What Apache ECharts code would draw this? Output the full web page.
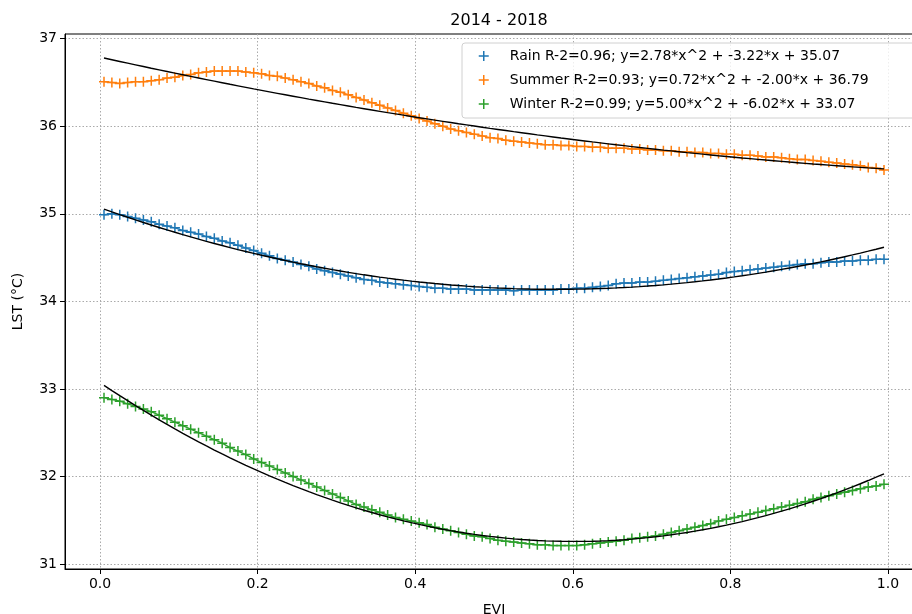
<!DOCTYPE html>
<html>
<head>
<meta charset="utf-8">
<script src="https://cdn.jsdelivr.net/npm/echarts@6/dist/echarts.min.js"></script>
<style>
  html, body { margin: 0; padding: 0; background: #fff; }
  #chart { width: 912px; height: 614px; }
</style>
</head>
<body>
<div id="chart"></div>
<script>
// EVI bin centres
const evi = [
  0.005, 0.015, 0.025, 0.035, 0.045, 0.055, 0.065, 0.075, 0.085, 0.095,
  0.105, 0.115, 0.125, 0.135, 0.145, 0.155, 0.165, 0.175, 0.185, 0.195,
  0.205, 0.215, 0.225, 0.235, 0.245, 0.255, 0.265, 0.275, 0.285, 0.295,
  0.305, 0.315, 0.325, 0.335, 0.345, 0.355, 0.365, 0.375, 0.385, 0.395,
  0.405, 0.415, 0.425, 0.435, 0.445, 0.455, 0.465, 0.475, 0.485, 0.495,
  0.505, 0.515, 0.525, 0.535, 0.545, 0.555, 0.565, 0.575, 0.585, 0.595,
  0.605, 0.615, 0.625, 0.635, 0.645, 0.655, 0.665, 0.675, 0.685, 0.695,
  0.705, 0.715, 0.725, 0.735, 0.745, 0.755, 0.765, 0.775, 0.785, 0.795,
  0.805, 0.815, 0.825, 0.835, 0.845, 0.855, 0.865, 0.875, 0.885, 0.895,
  0.905, 0.915, 0.925, 0.935, 0.945, 0.955, 0.965, 0.975, 0.985, 0.995
];

// Mean LST (°C) per EVI bin, by season
const rainLST = [
  34.99, 35.00, 34.99, 34.97, 34.95, 34.93, 34.91, 34.88, 34.86, 34.84,
  34.81, 34.79, 34.77, 34.74, 34.72, 34.69, 34.67, 34.64, 34.61, 34.58,
  34.55, 34.52, 34.49, 34.47, 34.45, 34.42, 34.40, 34.37, 34.35, 34.33,
  34.31, 34.29, 34.27, 34.25, 34.24, 34.22, 34.21, 34.20, 34.19, 34.18,
  34.17, 34.16, 34.15, 34.15, 34.14, 34.14, 34.14, 34.13, 34.13, 34.13,
  34.13, 34.13, 34.12, 34.13, 34.13, 34.13, 34.13, 34.13, 34.14, 34.14,
  34.15, 34.15, 34.16, 34.17, 34.18, 34.20, 34.21, 34.21, 34.22, 34.22,
  34.23, 34.24, 34.25, 34.26, 34.27, 34.28, 34.29, 34.30, 34.31, 34.33,
  34.34, 34.35, 34.36, 34.37, 34.38, 34.39, 34.40, 34.41, 34.42, 34.43,
  34.43, 34.44, 34.45, 34.45, 34.46, 34.46, 34.47, 34.47, 34.48, 34.48
];
const summerLST = [
  36.51, 36.50, 36.49, 36.50, 36.51, 36.51, 36.52, 36.53, 36.55, 36.56,
  36.58, 36.59, 36.61, 36.62, 36.63, 36.63, 36.63, 36.63, 36.62, 36.61,
  36.60, 36.58, 36.57, 36.55, 36.53, 36.51, 36.49, 36.46, 36.44, 36.41,
  36.39, 36.36, 36.33, 36.30, 36.27, 36.24, 36.21, 36.18, 36.15, 36.12,
  36.09, 36.06, 36.03, 36.00, 35.97, 35.95, 35.93, 35.91, 35.89, 35.87,
  35.86, 35.84, 35.83, 35.82, 35.81, 35.80, 35.79, 35.79, 35.78, 35.78,
  35.77, 35.77, 35.76, 35.76, 35.75, 35.75, 35.75, 35.74, 35.74, 35.73,
  35.73, 35.72, 35.72, 35.71, 35.71, 35.70, 35.70, 35.69, 35.69, 35.68,
  35.68, 35.67, 35.67, 35.66, 35.65, 35.65, 35.64, 35.63, 35.62, 35.62,
  35.61, 35.60, 35.59, 35.58, 35.57, 35.56, 35.55, 35.53, 35.52, 35.50
];
const winterLST = [
  32.90, 32.88, 32.86, 32.83, 32.80, 32.77, 32.74, 32.70, 32.66, 32.62,
  32.58, 32.54, 32.50, 32.46, 32.42, 32.38, 32.33, 32.29, 32.25, 32.20,
  32.16, 32.12, 32.08, 32.04, 32.00, 31.96, 31.92, 31.88, 31.84, 31.80,
  31.76, 31.72, 31.68, 31.65, 31.62, 31.59, 31.56, 31.53, 31.51, 31.49,
  31.47, 31.45, 31.42, 31.40, 31.38, 31.36, 31.34, 31.32, 31.31, 31.29,
  31.27, 31.26, 31.25, 31.24, 31.23, 31.22, 31.22, 31.21, 31.21, 31.21,
  31.21, 31.22, 31.23, 31.24, 31.25, 31.26, 31.27, 31.29, 31.30, 31.31,
  31.32, 31.34, 31.36, 31.38, 31.40, 31.42, 31.44, 31.46, 31.49, 31.51,
  31.53, 31.55, 31.57, 31.59, 31.61, 31.63, 31.65, 31.67, 31.69, 31.71,
  31.74, 31.76, 31.78, 31.80, 31.82, 31.84, 31.86, 31.88, 31.89, 31.91
];

// Quadratic fit coefficients [a, b, c] for y = a*x^2 + b*x + c, as printed in the legend
const rainFit = [2.78, -3.22, 35.07];
const summerFit = [0.72, -2.00, 36.79];
const winterFit = [5.00, -6.02, 33.07];
const rainR2 = '0.96', summerR2 = '0.93', winterR2 = '0.99';

const xTicks = [0.0, 0.2, 0.4, 0.6, 0.8, 1.0];
const yTicks = [31, 32, 33, 34, 35, 36, 37];

const colors = { rain: '#1f77b4', summer: '#ff7f0e', winter: '#2ca02c' };

function fitLabel(name, r2, c) {
  return name + ' R-2=' + r2 + '; y=' + c[0].toFixed(2) + '*x^2 + ' +
         c[1].toFixed(2) + '*x + ' + c[2].toFixed(2);
}
function pairs(xs, ys) { return xs.map((x, i) => [x, ys[i]]); }
function fitCurve(c) { return evi.map(x => [x, c[0] * x * x + c[1] * x + c[2]]); }

const plusPath = 'path://M5,0L5,10M0,5L10,5';
const font = 'DejaVu Sans';

function seasonSeries(name, color, ys) {
  return {
    name: name,
    type: 'line',
    data: pairs(evi, ys),
    symbol: plusPath,
    symbolSize: 10,
    showAllSymbol: true,
    lineStyle: { color: color, width: 1.4 },
    itemStyle: { color: color, borderColor: color, borderWidth: 1.5 },
    emphasis: { disabled: true },
    z: 3
  };
}
function fitSeries(c) {
  return {
    type: 'line',
    data: fitCurve(c),
    symbol: 'none',
    lineStyle: { color: '#000', width: 1.4 },
    emphasis: { disabled: true },
    z: 4
  };
}

const nRain = fitLabel('Rain', rainR2, rainFit);
const nSummer = fitLabel('Summer', summerR2, summerFit);
const nWinter = fitLabel('Winter', winterR2, winterFit);

const chart = echarts.init(document.getElementById('chart'), null, { renderer: 'canvas' });
chart.setOption({
  animation: false,
  textStyle: { fontFamily: font },
  title: {
    text: '2014 - 2018',
    left: 494,
    top: 8,
    textAlign: 'center',
    textStyle: { fontFamily: font, fontSize: 16, fontWeight: 'normal', color: '#000' }
  },
  grid: {
    left: 65, top: 34, right: -11, height: 535,
    outerBoundsMode: 'none',
    containLabel: false,
    show: true, borderColor: '#000', borderWidth: 1, backgroundColor: 'transparent'
  },
  legend: {
    orient: 'vertical',
    left: 462, top: 43,
    data: [nRain, nSummer, nWinter],
    icon: plusPath,
    itemWidth: 10, itemHeight: 10,
    itemGap: 10,
    padding: [6, 60, 7, 16],
    backgroundColor: 'rgba(255,255,255,0.8)',
    borderColor: '#d0d0d0', borderWidth: 1, borderRadius: 3,
    itemStyle: { borderWidth: 1.5 },
    textStyle: { fontFamily: font, fontSize: 14, color: '#000', padding: [0, 0, 0, 16] }
  },
  xAxis: {
    type: 'value',
    min: -0.0445, max: 1.0445,
    name: 'EVI', nameLocation: 'middle', nameGap: 34,
    nameTextStyle: { fontFamily: font, fontSize: 14, color: '#000' },
    axisLine: { show: true, onZero: false, lineStyle: { color: '#000', width: 1 } },
    axisTick: { show: true, length: 5, customValues: xTicks, lineStyle: { color: '#000' } },
    axisLabel: { customValues: xTicks, formatter: v => v.toFixed(1), fontFamily: font, fontSize: 14, color: '#000', margin: 8 },
    splitLine: { show: true, lineStyle: { color: '#aaa', width: 1, type: [1.5, 2] } }
  },
  yAxis: {
    type: 'value',
    min: 30.943, max: 37.054,
    name: 'LST (°C)', nameLocation: 'middle', nameGap: 40, nameRotate: 90,
    nameTextStyle: { fontFamily: font, fontSize: 14, color: '#000' },
    axisLine: { show: true, onZero: false, lineStyle: { color: '#000', width: 1 } },
    axisTick: { show: true, length: 5, customValues: yTicks, lineStyle: { color: '#000' } },
    axisLabel: { customValues: yTicks, fontFamily: font, fontSize: 14, color: '#000', margin: 8 },
    splitLine: { show: true, lineStyle: { color: '#aaa', width: 1, type: [1.5, 2] } }
  },
  series: [
    seasonSeries(nRain, colors.rain, rainLST),
    seasonSeries(nSummer, colors.summer, summerLST),
    seasonSeries(nWinter, colors.winter, winterLST),
    fitSeries(rainFit),
    fitSeries(summerFit),
    fitSeries(winterFit)
  ]
});
</script>
</body>
</html>
